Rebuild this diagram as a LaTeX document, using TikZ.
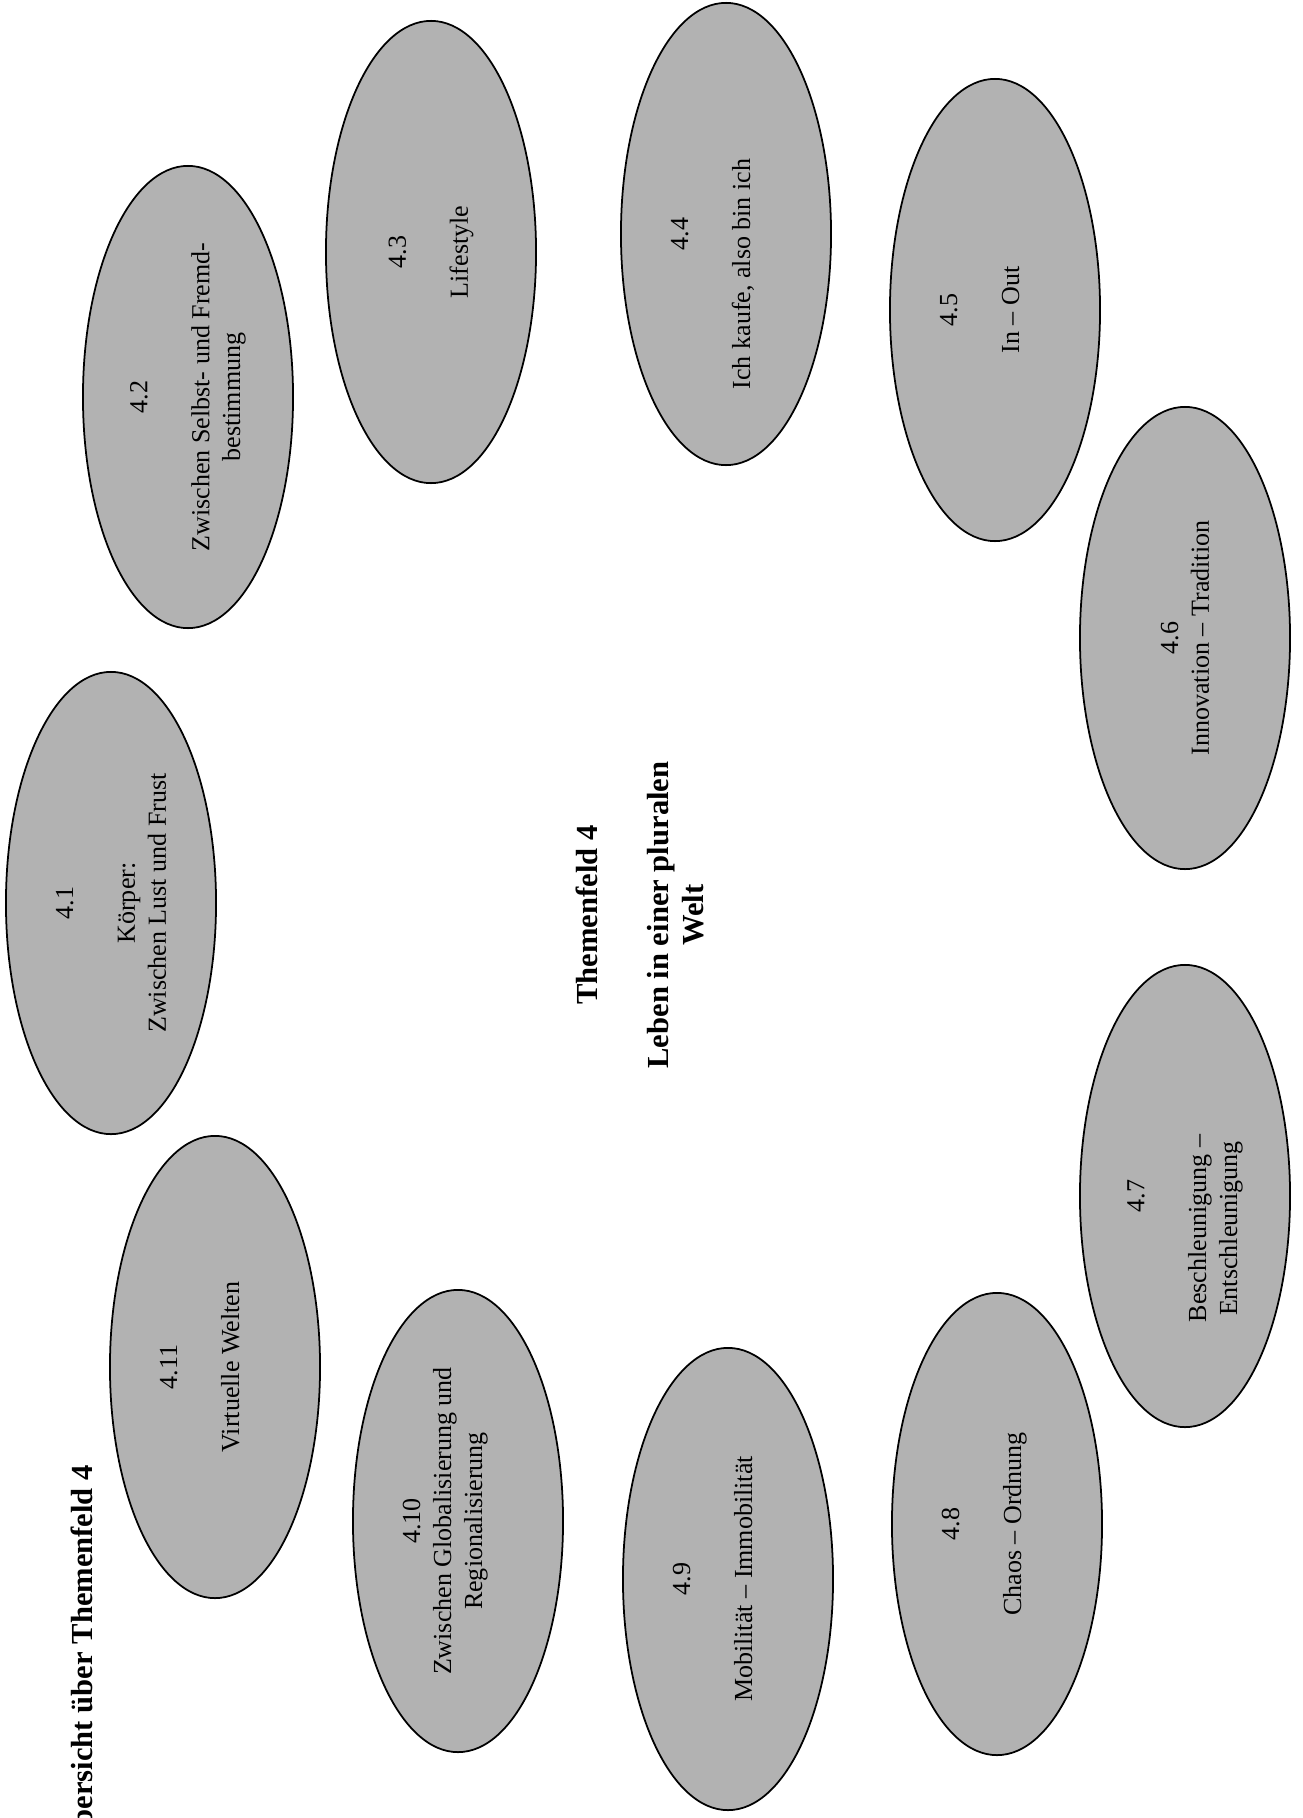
\documentclass[tikz,border=0pt]{standalone}
\usepackage{fontspec}
\setmainfont{Liberation Serif}
\usetikzlibrary{shapes.geometric,positioning}
\definecolor{scangray}{RGB}{178,178,178}

\begin{document}
\begin{tikzpicture}[x=0.01cm, y=-0.01cm, topic/.style={ellipse, draw, line width=0.5pt, fill=scangray, rotate=90, minimum width=4.62cm, minimum height=2.1cm, inner sep=0pt, align=center, font=\fontsize{7.4}{8.8}\selectfont}, heading/.style={rotate=90, align=center, inner sep=0pt, font=\fontsize{8.7}{10}\selectfont\bfseries}]
\useasboundingbox (0,0) rectangle (1303,1818);
% ring of topics
\node[topic] (t41) at (111,903) {4.1\\[8.8pt]Körper:\\Zwischen Lust und Frust};
\node[topic] (t42) at (188,397) {4.2\\[8.8pt]Zwischen Selbst- und Fremd-\\bestimmung};
\node[topic] (t43) at (431,252) {4.3\\[8.8pt]Lifestyle};
\node[topic] (t44) at (726,234) {4.4\\[8.8pt]Ich kaufe, also bin ich\makebox[0.8cm]{}\\\mbox{}};
\node[topic] (t45) at (995,310) {4.5\\[8.8pt]In – Out\\\mbox{}};
\node[topic] (t46) at (1185,638) {4.6\\Innovation – Tradition};
\node[topic] (t47) at (1185,1196) {4.7\\[8.8pt]Beschleunigung –\makebox[0.65cm]{}\\Entschleunigung\makebox[0.65cm]{}};
\node[topic] (t48) at (997,1524) {4.8\\[8.8pt]Chaos – Ordnung\\\mbox{}};
\node[topic] (t49) at (728,1579) {4.9\\[8.8pt]Mobilität – Immobilität\\\mbox{}};
\node[topic] (t410) at (458,1521) {4.10\\Zwischen Globalisierung und\\Regionalisierung\\\mbox{}};
\node[topic] (t411) at (215,1367) {4.11\\[8.8pt]Virtuelle Welten\\\mbox{}};
% centre and page heading
\node[heading] (centre) at (640,915) {Themenfeld 4\\[10pt]Leben in einer pluralen\\Welt};
\node[heading, anchor=base west] (overview) at (92,1849) {Übersicht über Themenfeld 4};
\end{tikzpicture}
\end{document}
